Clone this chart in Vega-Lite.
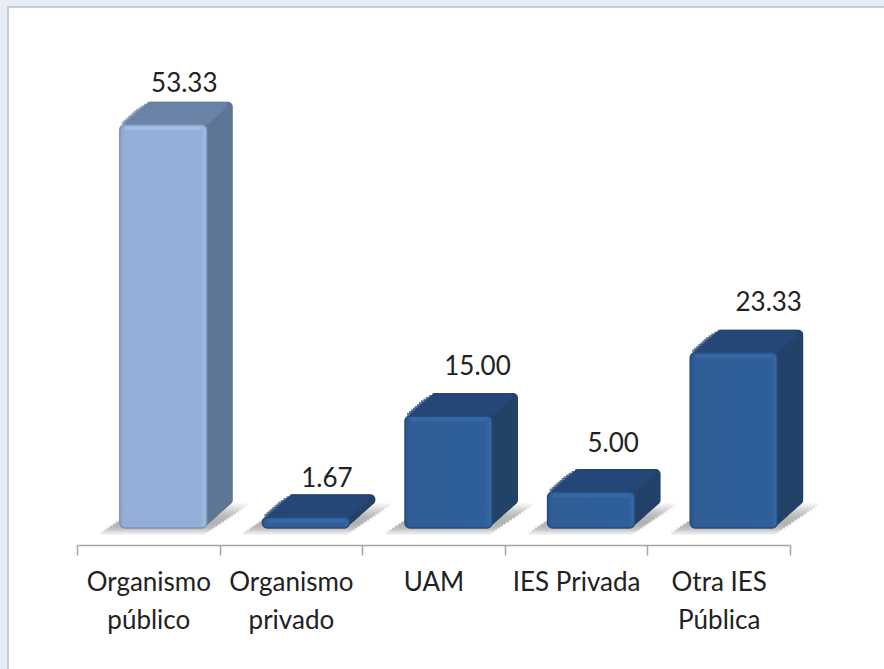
{"$schema":"https://vega.github.io/schema/vega-lite/v6.json","width":713,"height":500,"autosize":"none","padding":{"left":77,"top":45,"right":94,"bottom":124},"background":"#e8edf5","view":{"stroke":null},
"data":{"values":[{"cat":"Organismo público","val":53.33,"tono":"claro"},{"cat":"Organismo privado","val":1.67,"tono":"oscuro"},{"cat":"UAM","val":15.0,"tono":"oscuro"},{"cat":"IES Privada","val":5.0,"tono":"oscuro"},{"cat":"Otra IES Pública","val":23.33,"tono":"oscuro"}]},
"encoding":{"x":{"field":"cat","type":"nominal","sort":null,"title":null,"scale":{"paddingInner":0,"paddingOuter":0},"axis":{"zindex":1,"domainColor":"#a6a6a6","domainWidth":1.5,"tickColor":"#a6a6a6","tickWidth":1.5,"tickSize":10,"tickBand":"extent","labelAngle":0,"labelFont":"Lato","labelFontSize":26,"labelColor":"#222222","labelPadding":14,"labelLineHeight":38,"labelLimit":0,"labelExpr":"datum.label=='Organismo público'?['Organismo','público']:datum.label=='Organismo privado'?['Organismo','privado']:datum.label=='Otra IES Pública'?['Otra IES','Pública']:datum.label"}},"y":{"field":"val","type":"quantitative","scale":{"domain":[-1.974,63.82],"nice":false,"zero":false},"axis":null}},
"layer":[
{"data":{"values":[{}]},"mark":{"type":"rect","fill":"#ffffff","stroke":"#bcbad9","strokeWidth":1.5,"clip":false},"encoding":{"x":{"value":-69},"x2":{"value":820},"y":{"value":-38},"y2":{"value":640}}},
{"mark":{"type":"tick","thickness":3,"color":"#eeeeee","xOffset":47,"yOffset":-25},"encoding":{"y":{"datum":0},"size":{"value":105}}},
{"mark":{"type":"tick","thickness":3,"color":"#e2e2e2","xOffset":44,"yOffset":-23},"encoding":{"y":{"datum":0},"size":{"value":105}}},
{"mark":{"type":"tick","thickness":3,"color":"#d4d4d4","xOffset":41,"yOffset":-21},"encoding":{"y":{"datum":0},"size":{"value":105}}},
{"mark":{"type":"tick","thickness":3,"color":"#c6c6c6","xOffset":38,"yOffset":-19},"encoding":{"y":{"datum":0},"size":{"value":105}}},
{"mark":{"type":"tick","thickness":3,"color":"#bbbbbb","xOffset":35,"yOffset":-17},"encoding":{"y":{"datum":0},"size":{"value":105}}},
{"mark":{"type":"tick","thickness":3,"color":"#b2b2b2","xOffset":32,"yOffset":-15},"encoding":{"y":{"datum":0},"size":{"value":105}}},
{"mark":{"type":"tick","thickness":3,"color":"#aaaaaa","xOffset":29,"yOffset":-13},"encoding":{"y":{"datum":0},"size":{"value":105}}},
{"mark":{"type":"tick","thickness":3,"color":"#a6a6a6","xOffset":26,"yOffset":-11},"encoding":{"y":{"datum":0},"size":{"value":105}}},
{"mark":{"type":"tick","thickness":3,"color":"#a2a2a2","xOffset":23,"yOffset":-9},"encoding":{"y":{"datum":0},"size":{"value":105}}},
{"mark":{"type":"tick","thickness":3,"color":"#a0a0a0","xOffset":20,"yOffset":-7},"encoding":{"y":{"datum":0},"size":{"value":105}}},
{"mark":{"type":"tick","thickness":3,"color":"#a2a2a2","xOffset":17,"yOffset":-5},"encoding":{"y":{"datum":0},"size":{"value":105}}},
{"mark":{"type":"tick","thickness":3,"color":"#a8a8a8","xOffset":14,"yOffset":-3},"encoding":{"y":{"datum":0},"size":{"value":105}}},
{"mark":{"type":"tick","thickness":3,"color":"#b4b4b4","xOffset":11,"yOffset":-1},"encoding":{"y":{"datum":0},"size":{"value":105}}},
{"mark":{"type":"tick","thickness":3,"color":"#c8c8c8","xOffset":8,"yOffset":1},"encoding":{"y":{"datum":0},"size":{"value":105}}},
{"mark":{"type":"tick","thickness":3,"color":"#e0e0e0","xOffset":5,"yOffset":3},"encoding":{"y":{"datum":0},"size":{"value":105}}},
{"mark":{"type":"bar","width":87,"cornerRadius":5,"xOffset":41,"yOffset":-23,"y2Offset":-25},"encoding":{"y2":{"datum":0},"color":{"condition":{"test":"datum.tono=='claro'","value":"#5f7595"},"value":"#234268"}}},
{"mark":{"type":"bar","width":87,"cornerRadius":5,"xOffset":39,"yOffset":-21.2,"y2Offset":-23.2},"encoding":{"y2":{"datum":0},"color":{"condition":{"test":"datum.tono=='claro'","value":"#5f7595"},"value":"#234268"}}},
{"mark":{"type":"bar","width":87,"cornerRadius":5,"xOffset":37,"yOffset":-19.5,"y2Offset":-21.5},"encoding":{"y2":{"datum":0},"color":{"condition":{"test":"datum.tono=='claro'","value":"#5f7595"},"value":"#234268"}}},
{"mark":{"type":"bar","width":87,"cornerRadius":5,"xOffset":35,"yOffset":-17.7,"y2Offset":-19.7},"encoding":{"y2":{"datum":0},"color":{"condition":{"test":"datum.tono=='claro'","value":"#5f7595"},"value":"#234268"}}},
{"mark":{"type":"bar","width":87,"cornerRadius":5,"xOffset":33,"yOffset":-15.9,"y2Offset":-17.9},"encoding":{"y2":{"datum":0},"color":{"condition":{"test":"datum.tono=='claro'","value":"#5f7595"},"value":"#234268"}}},
{"mark":{"type":"bar","width":87,"cornerRadius":5,"xOffset":31,"yOffset":-14.2,"y2Offset":-16.2},"encoding":{"y2":{"datum":0},"color":{"condition":{"test":"datum.tono=='claro'","value":"#5f7595"},"value":"#234268"}}},
{"mark":{"type":"bar","width":87,"cornerRadius":5,"xOffset":29,"yOffset":-12.4,"y2Offset":-14.4},"encoding":{"y2":{"datum":0},"color":{"condition":{"test":"datum.tono=='claro'","value":"#5f7595"},"value":"#234268"}}},
{"mark":{"type":"bar","width":87,"cornerRadius":5,"xOffset":27,"yOffset":-10.6,"y2Offset":-12.6},"encoding":{"y2":{"datum":0},"color":{"condition":{"test":"datum.tono=='claro'","value":"#5f7595"},"value":"#234268"}}},
{"mark":{"type":"bar","width":87,"cornerRadius":5,"xOffset":25,"yOffset":-8.8,"y2Offset":-10.8},"encoding":{"y2":{"datum":0},"color":{"condition":{"test":"datum.tono=='claro'","value":"#5f7595"},"value":"#234268"}}},
{"mark":{"type":"bar","width":87,"cornerRadius":5,"xOffset":23,"yOffset":-7.1,"y2Offset":-9.1},"encoding":{"y2":{"datum":0},"color":{"condition":{"test":"datum.tono=='claro'","value":"#5f7595"},"value":"#234268"}}},
{"mark":{"type":"bar","width":87,"cornerRadius":5,"xOffset":21,"yOffset":-5.3,"y2Offset":-7.3},"encoding":{"y2":{"datum":0},"color":{"condition":{"test":"datum.tono=='claro'","value":"#5f7595"},"value":"#234268"}}},
{"mark":{"type":"bar","width":87,"cornerRadius":5,"xOffset":19,"yOffset":-3.5,"y2Offset":-5.5},"encoding":{"y2":{"datum":0},"color":{"condition":{"test":"datum.tono=='claro'","value":"#5f7595"},"value":"#234268"}}},
{"mark":{"type":"bar","width":87,"cornerRadius":5,"xOffset":17,"yOffset":-1.8,"y2Offset":-3.8},"encoding":{"y2":{"datum":0},"color":{"condition":{"test":"datum.tono=='claro'","value":"#5f7595"},"value":"#234268"}}},
{"mark":{"type":"tick","thickness":3,"xOffset":39,"yOffset":-21.5},"encoding":{"size":{"value":80},"color":{"condition":{"test":"datum.tono=='claro'","value":"#6c86aa"},"value":"#26487a"}}},
{"mark":{"type":"tick","thickness":3,"xOffset":37,"yOffset":-19.5},"encoding":{"size":{"value":83},"color":{"condition":{"test":"datum.tono=='claro'","value":"#6c86aa"},"value":"#26487a"}}},
{"mark":{"type":"tick","thickness":3,"xOffset":35,"yOffset":-17.7},"encoding":{"size":{"value":85},"color":{"condition":{"test":"datum.tono=='claro'","value":"#6c86aa"},"value":"#26487a"}}},
{"mark":{"type":"tick","thickness":3,"xOffset":33,"yOffset":-15.9},"encoding":{"size":{"value":86},"color":{"condition":{"test":"datum.tono=='claro'","value":"#6c86aa"},"value":"#26487a"}}},
{"mark":{"type":"tick","thickness":3,"xOffset":31,"yOffset":-14.2},"encoding":{"size":{"value":87},"color":{"condition":{"test":"datum.tono=='claro'","value":"#6c86aa"},"value":"#26487a"}}},
{"mark":{"type":"tick","thickness":3,"xOffset":29,"yOffset":-12.4},"encoding":{"size":{"value":87},"color":{"condition":{"test":"datum.tono=='claro'","value":"#6c86aa"},"value":"#26487a"}}},
{"mark":{"type":"tick","thickness":3,"xOffset":27,"yOffset":-10.6},"encoding":{"size":{"value":87},"color":{"condition":{"test":"datum.tono=='claro'","value":"#6c86aa"},"value":"#26487a"}}},
{"mark":{"type":"tick","thickness":3,"xOffset":25,"yOffset":-8.8},"encoding":{"size":{"value":87},"color":{"condition":{"test":"datum.tono=='claro'","value":"#6c86aa"},"value":"#26487a"}}},
{"mark":{"type":"tick","thickness":3,"xOffset":23,"yOffset":-7.1},"encoding":{"size":{"value":87},"color":{"condition":{"test":"datum.tono=='claro'","value":"#6c86aa"},"value":"#26487a"}}},
{"mark":{"type":"tick","thickness":3,"xOffset":21,"yOffset":-5.3},"encoding":{"size":{"value":87},"color":{"condition":{"test":"datum.tono=='claro'","value":"#6c86aa"},"value":"#26487a"}}},
{"mark":{"type":"tick","thickness":3,"xOffset":19,"yOffset":-3.5},"encoding":{"size":{"value":87},"color":{"condition":{"test":"datum.tono=='claro'","value":"#6c86aa"},"value":"#26487a"}}},
{"mark":{"type":"tick","thickness":3,"xOffset":17,"yOffset":-1.8},"encoding":{"size":{"value":87},"color":{"condition":{"test":"datum.tono=='claro'","value":"#6c86aa"},"value":"#26487a"}}},
{"mark":{"type":"bar","width":87,"cornerRadius":5,"xOffset":15,"y2Offset":-2,"strokeWidth":1.5},"encoding":{"y2":{"datum":0},"color":{"condition":{"test":"datum.tono=='claro'","value":{"gradient":"linear","x1":0,"x2":1,"y1":0,"y2":0,"stops":[{"offset":0,"color":"#88a4cc"},{"offset":0.05,"color":"#93afd7"},{"offset":0.93,"color":"#93afd7"},{"offset":1,"color":"#a3c1ea"}]}},"value":{"gradient":"linear","x1":0,"x2":1,"y1":0,"y2":0,"stops":[{"offset":0,"color":"#2a568c"},{"offset":0.05,"color":"#2e5d97"},{"offset":0.93,"color":"#2f5f9b"},{"offset":1,"color":"#3b6ca8"}]}},"stroke":{"condition":{"test":"datum.tono=='claro'","value":"#7c93b8"},"value":"#254c7e"}}},
{"mark":{"type":"tick","thickness":4,"xOffset":15,"yOffset":3.5},"encoding":{"size":{"value":76},"color":{"condition":{"test":"datum.tono=='claro'","value":"#a5c5ef"},"value":"#3c6ca7"}}},
{"transform":[{"filter":"datum.cat=='Organismo público'"}],"mark":{"type":"text","font":"Lato","fontSize":26,"color":"#222222","xOffset":36,"yOffset":-41},"encoding":{"text":{"field":"val","type":"quantitative","format":".2f"}}},
{"transform":[{"filter":"datum.cat=='Organismo privado'"}],"mark":{"type":"text","font":"Lato","fontSize":26,"color":"#222222","xOffset":36,"yOffset":-38},"encoding":{"text":{"field":"val","type":"quantitative","format":".2f"}}},
{"transform":[{"filter":"datum.cat=='UAM'"}],"mark":{"type":"text","font":"Lato","fontSize":26,"color":"#222222","xOffset":44,"yOffset":-49},"encoding":{"text":{"field":"val","type":"quantitative","format":".2f"}}},
{"transform":[{"filter":"datum.cat=='IES Privada'"}],"mark":{"type":"text","font":"Lato","fontSize":26,"color":"#222222","xOffset":37,"yOffset":-48},"encoding":{"text":{"field":"val","type":"quantitative","format":".2f"}}},
{"transform":[{"filter":"datum.cat=='Otra IES Pública'"}],"mark":{"type":"text","font":"Lato","fontSize":26,"color":"#222222","xOffset":50,"yOffset":-50},"encoding":{"text":{"field":"val","type":"quantitative","format":".2f"}}}
]}
